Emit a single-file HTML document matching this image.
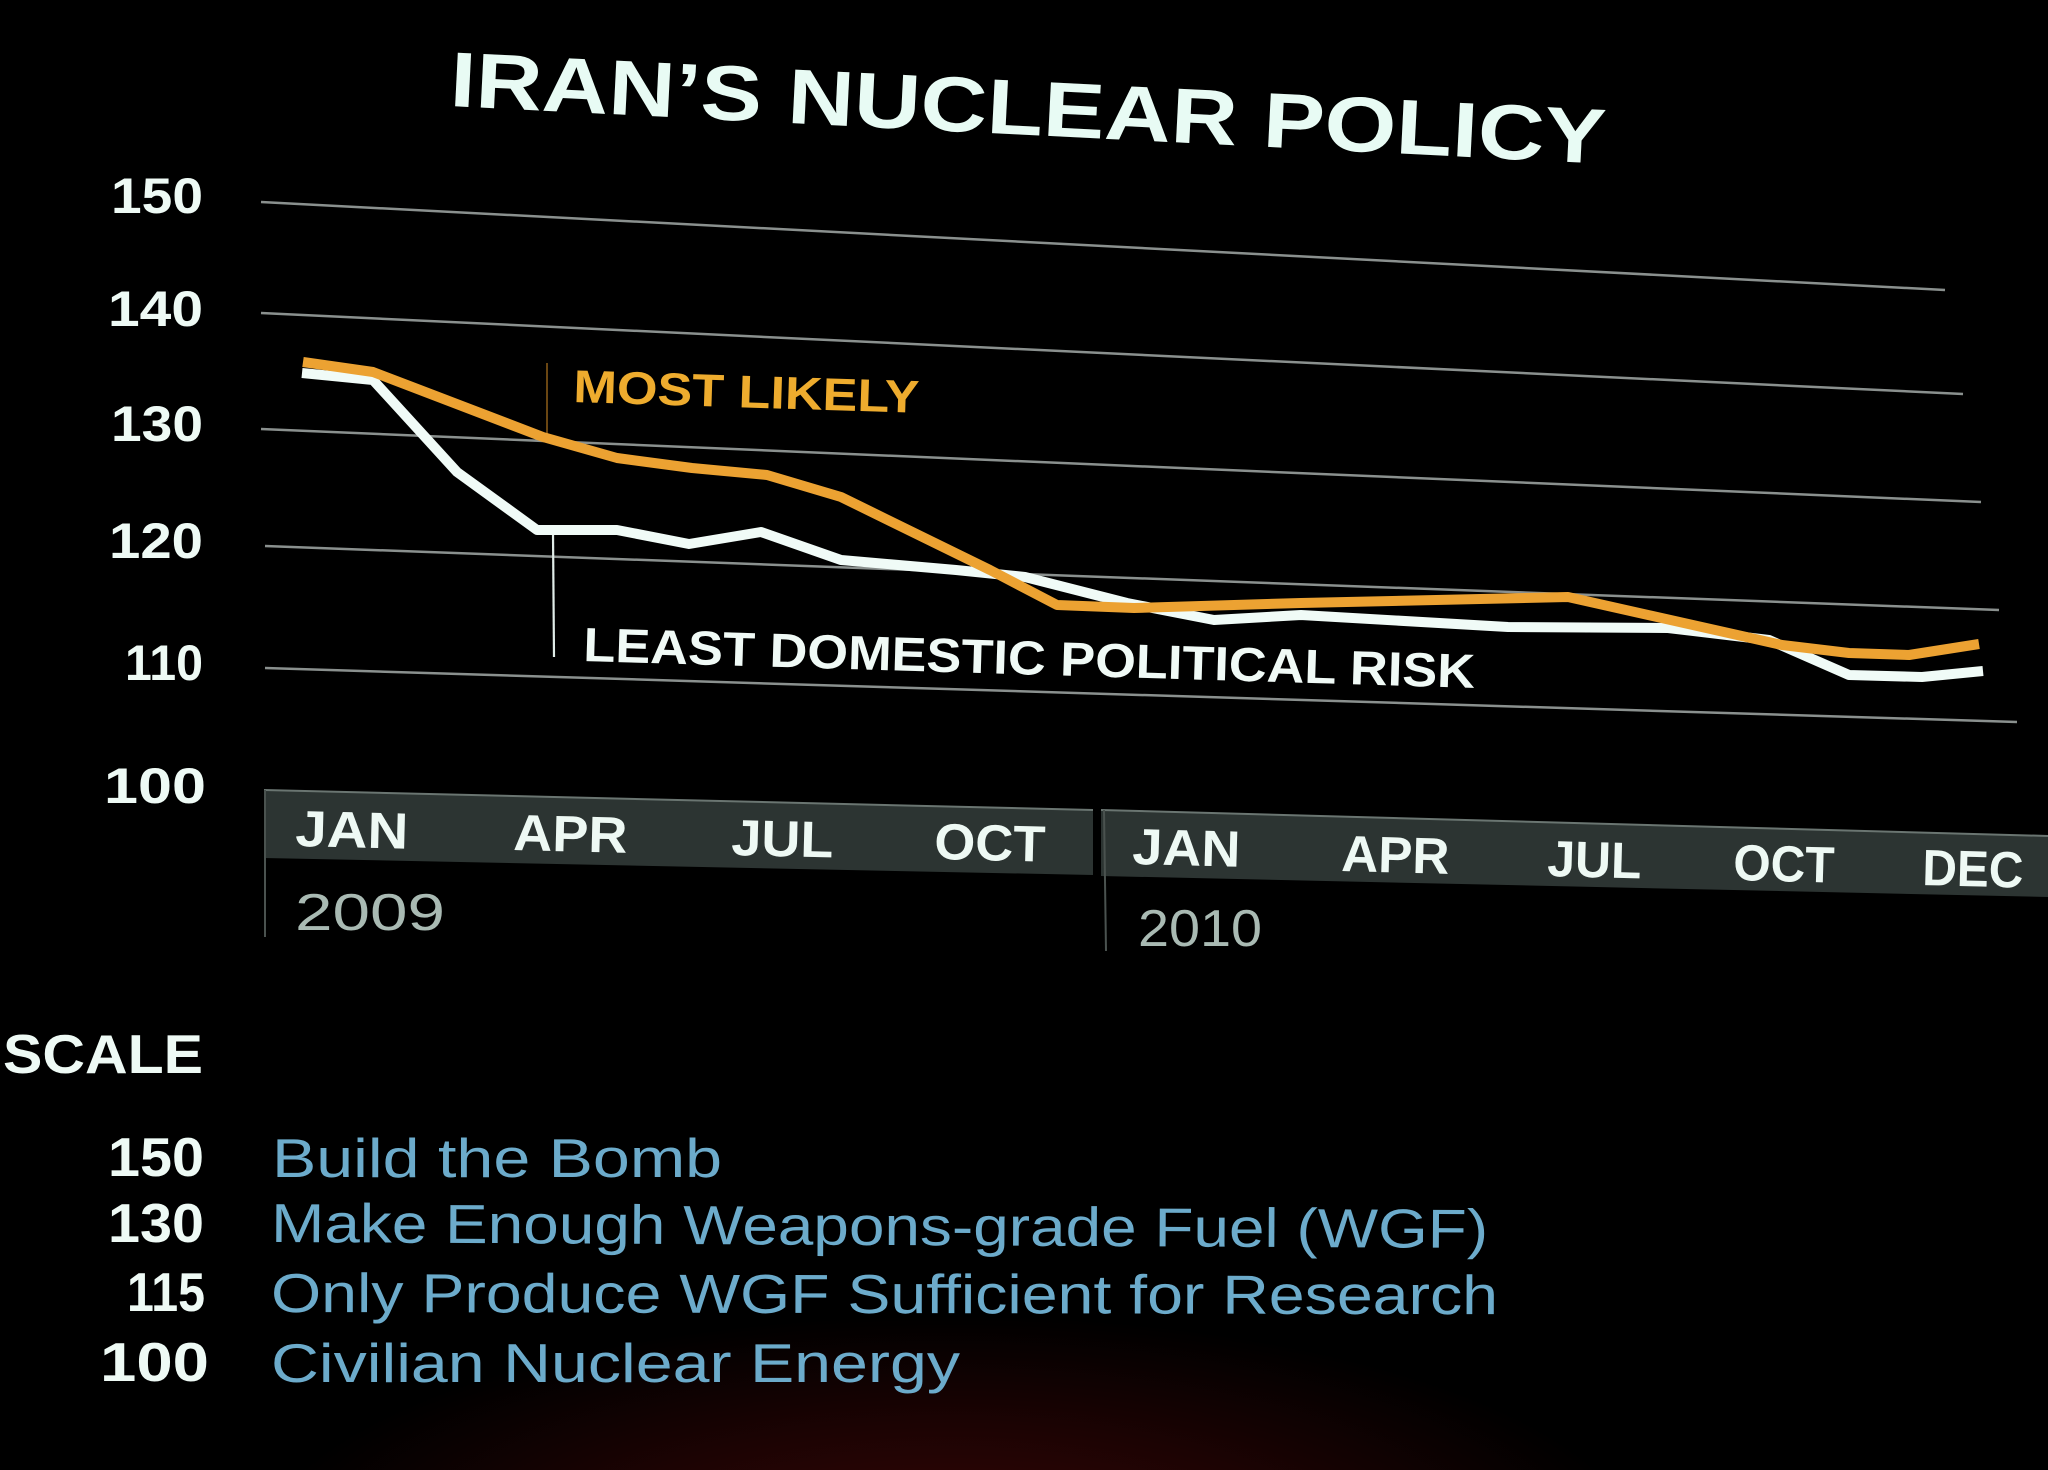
<!DOCTYPE html>
<html>
<head>
<meta charset="utf-8">
<style>
  html, body { margin:0; padding:0; background:#000; }
  body { width:2048px; height:1470px; overflow:hidden; }
  svg { display:block; }
  .b { font-family:"Liberation Sans", sans-serif; font-weight:bold; }
  .r { font-family:"Liberation Sans", sans-serif; font-weight:normal; }
</style>
</head>
<body>
<svg width="2048" height="1470" viewBox="0 0 2048 1470" xmlns="http://www.w3.org/2000/svg">
  <defs>
    <radialGradient id="glow" cx="950" cy="1560" r="700" gradientUnits="userSpaceOnUse" gradientTransform="translate(950 1560) scale(1 0.35) translate(-950 -1560)">
      <stop offset="0" stop-color="#3a0606"/>
      <stop offset="0.55" stop-color="#1c0303"/>
      <stop offset="1" stop-color="#000"/>
    </radialGradient>
  </defs>
  <rect x="0" y="0" width="2048" height="1470" fill="#000"/>
  <rect x="0" y="1200" width="2048" height="270" fill="url(#glow)"/>

  <!-- Title -->
  <text class="b" x="449" y="106" font-size="78" fill="#e8fbf4" textLength="1157" lengthAdjust="spacingAndGlyphs" transform="rotate(2.86 449 106)">IRAN’S NUCLEAR POLICY</text>

  <!-- Gridlines -->
  <g stroke="#8a908e" stroke-width="2.5" fill="none">
    <line x1="261" y1="202" x2="1945" y2="290"/>
    <line x1="261" y1="313" x2="1963" y2="394"/>
    <line x1="261" y1="429" x2="1981" y2="502"/>
    <line x1="265" y1="546" x2="1999" y2="610"/>
    <line x1="265" y1="668" x2="2017" y2="722"/>
  </g>

  <!-- Y axis labels -->
  <g class="b" fill="#eefaf5" font-size="50" text-anchor="end">
    <text x="203" y="213" textLength="92" lengthAdjust="spacingAndGlyphs">150</text>
    <text x="203" y="326" textLength="95" lengthAdjust="spacingAndGlyphs">140</text>
    <text x="203" y="441" textLength="92" lengthAdjust="spacingAndGlyphs">130</text>
    <text x="203" y="558" textLength="94" lengthAdjust="spacingAndGlyphs">120</text>
    <text x="203" y="680" textLength="78" lengthAdjust="spacingAndGlyphs">110</text>
    <text x="206" y="803" textLength="102" lengthAdjust="spacingAndGlyphs">100</text>
  </g>

  <!-- Marker lines -->
  <line x1="547" y1="363" x2="547" y2="434" stroke="#6a4612" stroke-width="2"/>
  <line x1="553" y1="533" x2="554" y2="657" stroke="#e0ece8" stroke-width="2.2"/>

  <!-- Series: least domestic political risk (white) -->
  <polyline fill="none" stroke="#f0fbf7" stroke-width="10" stroke-linejoin="round"
    points="302,373 373,380 457,472 537,530 617,530 689,544 761,532 841,560 956,570 1025,577 1127,603 1214,620 1301,615 1508,627 1668,628 1769,640 1849,675 1922,677 1983,671"/>
  <!-- Series: most likely (orange) -->
  <polyline fill="none" stroke="#eca232" stroke-width="10" stroke-linejoin="round"
    points="303,362 373,372 543,437 617,458 692,468 767,475 841,497 990,570 1057,605 1134,608 1301,603 1568,597 1782,645 1849,653 1909,655 1979,644"/>

  <!-- Annotations -->
  <text class="b" x="573" y="402" font-size="46" fill="#eeac2e" textLength="346" lengthAdjust="spacingAndGlyphs" transform="rotate(1.8 573 402)">MOST LIKELY</text>
  <text class="b" x="583" y="661" font-size="48" fill="#f0faf6" textLength="892" lengthAdjust="spacingAndGlyphs" transform="rotate(1.73 583 661)">LEAST DOMESTIC POLITICAL RISK</text>

  <!-- X axis bands -->
  <polygon points="264,790 1093,810 1093,875 264,858" fill="#2c3432"/>
  <polygon points="1101,810 2048,836 2048,897 1101,876" fill="#2c3432"/>
  <line x1="264" y1="790" x2="1093" y2="810" stroke="#6a7571" stroke-width="2"/>
  <line x1="1101" y1="810" x2="2048" y2="836" stroke="#6a7571" stroke-width="2"/>
  <line x1="265" y1="790" x2="265" y2="937" stroke="#4a524f" stroke-width="2"/>
  <line x1="1104" y1="810" x2="1106" y2="951" stroke="#4a524f" stroke-width="2"/>

  <!-- Month labels -->
  <g class="b" fill="#eef9f4" font-size="51">
    <text x="295" y="846" textLength="113" lengthAdjust="spacingAndGlyphs" transform="rotate(1.4 295 846)">JAN</text>
    <text x="513" y="850" textLength="114" lengthAdjust="spacingAndGlyphs" transform="rotate(1.4 513 850)">APR</text>
    <text x="731" y="855" textLength="102" lengthAdjust="spacingAndGlyphs" transform="rotate(1.4 731 855)">JUL</text>
    <text x="934" y="859" textLength="111" lengthAdjust="spacingAndGlyphs" transform="rotate(1.4 934 859)">OCT</text>
    <text x="1132" y="864" textLength="108" lengthAdjust="spacingAndGlyphs" transform="rotate(1.5 1132 864)">JAN</text>
    <text x="1341" y="871" textLength="108" lengthAdjust="spacingAndGlyphs" transform="rotate(1.5 1341 871)">APR</text>
    <text x="1547" y="876" textLength="94" lengthAdjust="spacingAndGlyphs" transform="rotate(1.5 1547 876)">JUL</text>
    <text x="1733" y="880" textLength="101" lengthAdjust="spacingAndGlyphs" transform="rotate(1.5 1733 880)">OCT</text>
    <text x="1922" y="885" textLength="101" lengthAdjust="spacingAndGlyphs" transform="rotate(1.5 1922 885)">DEC</text>
  </g>

  <!-- Years -->
  <g class="r" fill="#a9bab3" font-size="52">
    <text x="295" y="930" textLength="150" lengthAdjust="spacingAndGlyphs">2009</text>
    <text x="1138" y="946" textLength="124" lengthAdjust="spacingAndGlyphs">2010</text>
  </g>

  <!-- Scale legend -->
  <text class="b" x="3" y="1073" font-size="55" fill="#eefaf5" textLength="200" lengthAdjust="spacingAndGlyphs">SCALE</text>

  <g class="b" fill="#eefaf5" font-size="55" text-anchor="end">
    <text x="204" y="1176" textLength="96" lengthAdjust="spacingAndGlyphs">150</text>
    <text x="204" y="1242" textLength="96" lengthAdjust="spacingAndGlyphs">130</text>
    <text x="205" y="1311" textLength="78" lengthAdjust="spacingAndGlyphs">115</text>
    <text x="209" y="1381" textLength="109" lengthAdjust="spacingAndGlyphs">100</text>
  </g>
  <g class="r" fill="#6cabcb" font-size="55">
    <text x="272" y="1177" textLength="450" lengthAdjust="spacingAndGlyphs">Build the Bomb</text>
    <text x="271" y="1242" textLength="1217" lengthAdjust="spacingAndGlyphs" transform="rotate(0.28 271 1242)">Make Enough Weapons-grade Fuel (WGF)</text>
    <text x="271" y="1312" textLength="1227" lengthAdjust="spacingAndGlyphs" transform="rotate(0.1 271 1312)">Only Produce WGF Sufficient for Research</text>
    <text x="271" y="1382" textLength="689" lengthAdjust="spacingAndGlyphs">Civilian Nuclear Energy</text>
  </g>
</svg>
</body>
</html>
